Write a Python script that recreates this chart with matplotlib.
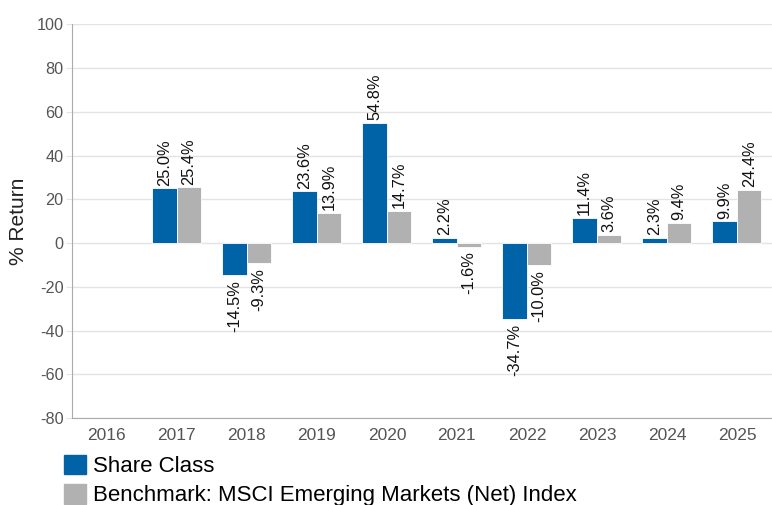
import matplotlib.pyplot as plt
import matplotlib.patches as mpatches
import numpy as np

years = ['2016', '2017', '2018', '2019', '2020', '2021', '2022', '2023', '2024', '2025']
share_class = [np.nan, 25.0, -14.5, 23.6, 54.8, 2.2, -34.7, 11.4, 2.3, 9.9]
benchmark = [np.nan, 25.4, -9.3, 13.9, 14.7, -1.6, -10.0, 3.6, 9.4, 24.4]
series_names = ['Share Class', 'Benchmark: MSCI Emerging Markets (Net) Index']

blue = '#0063a8'
grey = '#b1b1b1'

plt.rcParams['font.family'] = ['Liberation Sans', 'DejaVu Sans']
plt.rcParams['axes.unicode_minus'] = False
narrow = ['Liberation Sans Narrow', 'Liberation Sans', 'DejaVu Sans']

fig = plt.figure(figsize=(7.72, 5.05), dpi=100)
ax = fig.add_axes([0.093, 0.172, 0.907, 0.780])

x = np.arange(len(years))
w = 0.35
b1 = ax.bar(x - w / 2, share_class, w, color=blue, edgecolor='white', linewidth=0.6, zorder=3)
b2 = ax.bar(x + w / 2, benchmark, w, color=grey, edgecolor='white', linewidth=0.6, zorder=3)

for bars, vals in [(b1, share_class), (b2, benchmark)]:
    for bar, v in zip(bars, vals):
        if np.isnan(v):
            continue
        cx = bar.get_x() + bar.get_width() / 2
        if v >= 0:
            ax.annotate(f'{v:.1f}%', (cx, v), xytext=(0, 2), textcoords='offset points',
                        rotation=90, ha='center', va='bottom', fontsize=11.8, color='#111111')
        else:
            ax.annotate(f'{v:.1f}%', (cx, v), xytext=(0, -3.5), textcoords='offset points',
                        rotation=90, ha='center', va='top', fontsize=11.8, color='#111111')

ax.set_xlim(-0.5, len(years) - 0.5)
ax.set_ylim(-80, 100)
ax.set_yticks(range(-80, 101, 20))
ax.set_xticks(x)
ax.set_xticklabels(years, family=narrow)
ax.grid(axis='y', color='#e3e3e3', linewidth=1, zorder=0)
ax.tick_params(axis='y', length=4, color='#e3e3e3', labelsize=11.7, labelcolor='#555555', pad=2)
ax.tick_params(axis='x', length=0, labelsize=12.5, labelcolor='#555555', pad=7)
for s in ['top', 'right']:
    ax.spines[s].set_visible(False)
ax.spines['left'].set_color('#aaaaaa')
ax.spines['bottom'].set_color('#aaaaaa')
ax.set_ylabel('% Return', fontsize=15, color='#222222', labelpad=6)

handles = [mpatches.Patch(color=blue), mpatches.Patch(color=grey)]
fig.legend(handles, series_names, loc='upper left', bbox_to_anchor=(0.083, 0.10),
           frameon=False, handlelength=1.0, handleheight=1.0,
           handletextpad=0.3, labelspacing=0.3, borderaxespad=0, borderpad=0,
           prop={'family': narrow, 'size': 16})

plt.savefig('out.png')
